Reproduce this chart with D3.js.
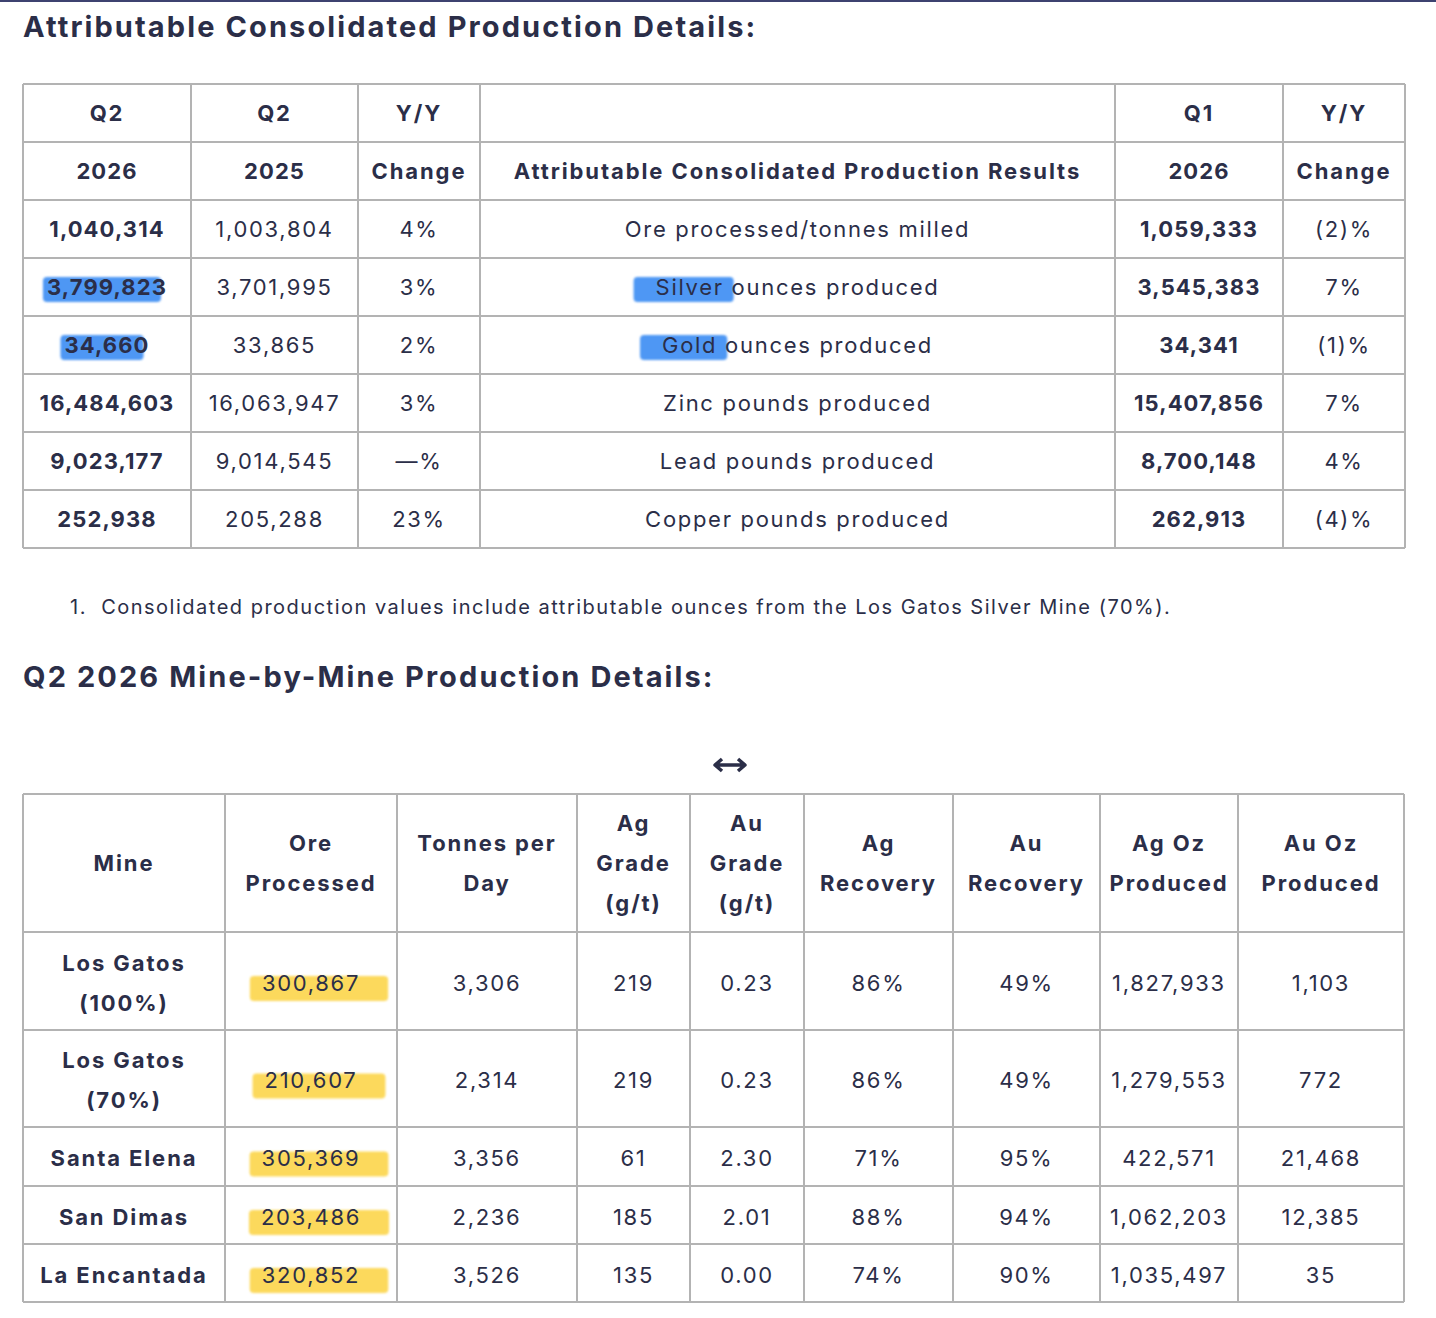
<!DOCTYPE html>
<html>
<head>
<meta charset="utf-8">
<script src="https://cdn.jsdelivr.net/npm/d3@7"></script>
<style>
  body { margin: 0; background: #fff; }
  svg text { font-family: Inter, "Noto Sans", sans-serif; fill: #2b2e48; }
</style>
</head>
<body>
<svg id="chart" width="1436" height="1318"></svg>
<script>
// ---- data: consolidated table
var topHead1 = ["Q2", "Q2", "Y/Y", "", "Q1", "Y/Y"];
var topHead2 = ["2026", "2025", "Change", "Attributable Consolidated Production Results", "2026", "Change"];
var metrics = ["Ore processed/tonnes milled", "Silver ounces produced", "Gold ounces produced",
               "Zinc pounds produced", "Lead pounds produced", "Copper pounds produced"];
var q2_2026 = ["1,040,314", "3,799,823", "34,660", "16,484,603", "9,023,177", "252,938"];
var q2_2025 = ["1,003,804", "3,701,995", "33,865", "16,063,947", "9,014,545", "205,288"];
var yoyChange = ["4%", "3%", "2%", "3%", "—%", "23%"];
var q1_2026 = ["1,059,333", "3,545,383", "34,341", "15,407,856", "8,700,148", "262,913"];
var q1Change = ["(2)%", "7%", "(1)%", "7%", "4%", "(4)%"];
var footnote = "1.  Consolidated production values include attributable ounces from the Los Gatos Silver Mine (70%).";

// ---- data: mine-by-mine table
var mineHead = [["Mine"], ["Ore", "Processed"], ["Tonnes per", "Day"], ["Ag", "Grade", "(g/t)"],
                ["Au", "Grade", "(g/t)"], ["Ag", "Recovery"], ["Au", "Recovery"],
                ["Ag Oz", "Produced"], ["Au Oz", "Produced"]];
var mines = [["Los Gatos", "(100%)"], ["Los Gatos", "(70%)"], ["Santa Elena"], ["San Dimas"], ["La Encantada"]];
var oreProcessed = ["300,867", "210,607", "305,369", "203,486", "320,852"];
var tonnesPerDay = ["3,306", "2,314", "3,356", "2,236", "3,526"];
var agGrade = ["219", "219", "61", "185", "135"];
var auGrade = ["0.23", "0.23", "2.30", "2.01", "0.00"];
var agRecovery = ["86%", "86%", "71%", "88%", "74%"];
var auRecovery = ["49%", "49%", "95%", "94%", "90%"];
var agOz = ["1,827,933", "1,279,553", "422,571", "1,062,203", "1,035,497"];
var auOz = ["1,103", "772", "21,468", "12,385", "35"];

// highlighted cells: [row, column, word-or-null]
var blueMarks = [[1, 0, null], [2, 0, null], [1, 3, "Silver"], [2, 3, "Gold"]];
var yellowMarks = [0, 1, 2, 3, 4];

var svg = d3.select("#chart");
var ink = "#2b2e48", grid = "#b3b3b3";

svg.append("rect").attr("x", 0).attr("y", 0).attr("width", 1436).attr("height", 2).attr("fill", "#3d4270");

var defs = svg.append("defs");
defs.append("filter").attr("id", "soft").append("feGaussianBlur").attr("stdDeviation", 0.8);

function title(txt, y) {
  svg.append("text").attr("x", 23).attr("y", y).attr("font-size", 29).attr("font-weight", 700)
    .attr("letter-spacing", 2.1).text(txt);
}

var numeric = /^[\d,.%()—\s]+$/;
function cell(g, cx, cy, lines, bold, lh) {
  var isNum = lines.every(function(s) { return numeric.test(s); });
  var ls = bold ? (isNum ? 1.1 : 1.9) : 1.7;
  var t = g.append("text").attr("text-anchor", "middle").attr("font-size", 22)
    .attr("font-weight", bold ? 700 : 400).attr("letter-spacing", ls);
  lines.forEach(function(s, i) {
    t.append("tspan").attr("x", cx).attr("y", cy + (i - (lines.length - 1) / 2) * lh).attr("dy", "0.36em").text(s);
  });
  return t;
}

// ================= top table =================
title("Attributable Consolidated Production Details:", 37);

var topW = [168, 167, 122, 635, 168, 122];
var topX = [23].concat(Array.from(d3.cumsum(topW), function(v) { return 23 + v; }));
var tY = d3.scaleLinear().domain([0, 8]).range([84, 548]);

var topG = svg.append("g");
var topMarkG = topG.append("g");
var topTextG = topG.append("g");

var topCols = [q2_2026, q2_2025, yoyChange, metrics, q1_2026, q1Change];
var topBold = [true, false, false, false, true, false];
var topCells = {};
topHead1.forEach(function(h, c) {
  var cx = (topX[c] + topX[c + 1]) / 2;
  if (h) cell(topTextG, cx, (tY(0) + tY(1)) / 2, [h], true, 0);
  cell(topTextG, cx, (tY(1) + tY(2)) / 2, [topHead2[c]], true, 0);
  topCols[c].forEach(function(v, r) {
    topCells[r + "_" + c] = cell(topTextG, cx, (tY(r + 2) + tY(r + 3)) / 2, [v], topBold[c], 0);
  });
});

topG.append("g").selectAll("line").data(d3.range(9)).join("line")
  .attr("x1", topX[0]).attr("x2", topX[6]).attr("y1", tY).attr("y2", tY)
  .attr("stroke", grid).attr("stroke-width", 2);
topG.append("g").selectAll("line").data(topX).join("line")
  .attr("x1", function(d) { return d; }).attr("x2", function(d) { return d; })
  .attr("y1", tY(0)).attr("y2", tY(8)).attr("stroke", grid).attr("stroke-width", 2);

// blue marker strokes
blueMarks.forEach(function(m) {
  var node = topCells[m[0] + "_" + m[1]].node(), bb = node.getBBox();
  var x0 = bb.x - 4, w = bb.width - 2;
  if (m[2]) { x0 = bb.x - 22; w = node.getSubStringLength(0, m[2].length) + 32; }
  var cy = bb.y + bb.height / 2;
  topMarkG.append("rect").attr("x", x0).attr("y", cy - 10).attr("width", w).attr("height", 25)
    .attr("rx", 4).attr("fill", "#3a8cf3").attr("opacity", 0.9).attr("filter", "url(#soft)");
});

svg.append("text").attr("x", 70).attr("y", 607).attr("dy", "0.36em").attr("font-size", 20)
  .attr("letter-spacing", 1.5).style("white-space", "pre").text(footnote);

// ================= mine table =================
title("Q2 2026 Mine-by-Mine Production Details:", 687);

// resize arrow
svg.append("path").attr("d", "M716,765 H744 M722,759 L715,765 L722,771 M738,759 L745,765 L738,771")
  .attr("fill", "none").attr("stroke", ink).attr("stroke-width", 3.5).attr("stroke-linejoin", "round");

var mineW = [202, 172, 180, 113, 114, 149, 147, 138, 166];
var mineX = [23].concat(Array.from(d3.cumsum(mineW), function(v) { return 23 + v; }));
var rowH = [138, 98, 97, 59, 58, 58];
var mineY = [794].concat(Array.from(d3.cumsum(rowH), function(v) { return 794 + v; }));

var mG = svg.append("g");
var mMarkG = mG.append("g");
var mTextG = mG.append("g");

var mineCols = [mines, oreProcessed, tonnesPerDay, agGrade, auGrade, agRecovery, auRecovery, agOz, auOz];
var oreCells = [];
mineHead.forEach(function(h, c) {
  var cx = (mineX[c] + mineX[c + 1]) / 2;
  cell(mTextG, cx, (mineY[0] + mineY[1]) / 2, h, true, 40);
  mineCols[c].forEach(function(v, r) {
    var t = cell(mTextG, cx, (mineY[r + 1] + mineY[r + 2]) / 2 + 2, Array.isArray(v) ? v : [v], c === 0, 40);
    if (c === 1) oreCells.push(t);
  });
});

mG.append("g").selectAll("line").data(mineY).join("line")
  .attr("x1", mineX[0]).attr("x2", mineX[9]).attr("y1", function(d) { return d; }).attr("y2", function(d) { return d; })
  .attr("stroke", grid).attr("stroke-width", 2);
mG.append("g").selectAll("line").data(mineX).join("line")
  .attr("x1", function(d) { return d; }).attr("x2", function(d) { return d; })
  .attr("y1", mineY[0]).attr("y2", mineY[6]).attr("stroke", grid).attr("stroke-width", 2);

yellowMarks.forEach(function(r) {
  var bb = oreCells[r].node().getBBox();
  var cy = bb.y + bb.height / 2;
  mMarkG.append("rect").attr("x", bb.x - 12).attr("y", cy - 7).attr("width", bb.width + 40).attr("height", 25)
    .attr("rx", 4).attr("fill", "#fcd54c").attr("opacity", 0.9).attr("filter", "url(#soft)");
});
</script>
</body>
</html>
